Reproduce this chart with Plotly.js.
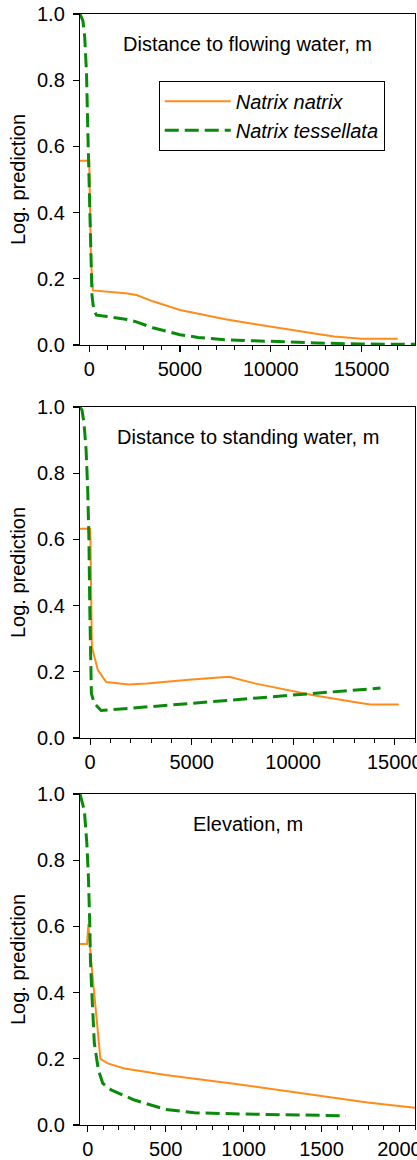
<!DOCTYPE html>
<html>
<head>
<meta charset="utf-8">
<script src="https://cdn.plot.ly/plotly-3.0.1.min.js"></script>
<style>
  html, body { margin: 0; padding: 0; background: #fff; }
  #chart { width: 417px; height: 1160px; }
</style>
</head>
<body>
<div id="chart"></div>
<script>
// ---------- Data ----------
const seriesNames = ["Natrix natrix", "Natrix tessellata"];
const panelTitles = ["Distance to flowing water, m", "Distance to standing water, m", "Elevation, m"];
const yTitle = "Log. prediction";
const yTickVals = [0, 0.2, 0.4, 0.6, 0.8, 1.0];

// Panel 1: distance to flowing water
const flowNatrixX = [-510, 0, 30, 100, 200, 1000, 2000, 2600, 3500, 5000, 6500, 7500, 9000, 10000, 11500, 12500, 13500, 14500, 15000, 17000];
const flowNatrixY = [0.557, 0.557, 0.45, 0.25, 0.165, 0.162, 0.156, 0.151, 0.132, 0.106, 0.088, 0.078, 0.064, 0.055, 0.042, 0.034, 0.026, 0.021, 0.019, 0.019];
const flowTessX = [-510, -350, -250, -150, -80, -30, 20, 80, 150, 250, 400, 1000, 2000, 2600, 3500, 5000, 6000, 7500, 10000, 12500, 15000, 18000];
const flowTessY = [1.0, 0.98, 0.93, 0.82, 0.65, 0.52, 0.40, 0.25, 0.15, 0.105, 0.09, 0.086, 0.078, 0.070, 0.052, 0.031, 0.023, 0.016, 0.010, 0.006, 0.003, 0.002];

// Panel 2: distance to standing water
const standNatrixX = [-500, 0, 15, 85, 380, 790, 1900, 2800, 5000, 6850, 8100, 10000, 11000, 13000, 13800, 15200];
const standNatrixY = [0.632, 0.632, 0.60, 0.275, 0.205, 0.169, 0.162, 0.165, 0.177, 0.185, 0.165, 0.142, 0.129, 0.109, 0.101, 0.101];
const standTessX = [-500, -400, -300, -200, -120, -60, -20, 20, 60, 200, 540, 2000, 5000, 7500, 10000, 12000, 14300];
const standTessY = [1.0, 0.99, 0.95, 0.87, 0.75, 0.60, 0.40, 0.20, 0.135, 0.105, 0.083, 0.090, 0.105, 0.116, 0.129, 0.140, 0.151];

// Panel 3: elevation
const elevNatrixX = [-50, -5, 4, 21, 81, 128, 235, 500, 1000, 1260, 1500, 1795, 2105];
const elevNatrixY = [0.547, 0.547, 0.607, 0.498, 0.200, 0.186, 0.171, 0.151, 0.121, 0.104, 0.088, 0.068, 0.052];
const elevTessX = [-50, -22, -6, 4, 13, 17, 26, 42, 68, 96, 150, 299, 500, 683, 1000, 1656];
const elevTessY = [1.0, 0.95, 0.85, 0.75, 0.60, 0.50, 0.40, 0.247, 0.166, 0.126, 0.106, 0.0755, 0.047, 0.037, 0.033, 0.028];

// ---------- Styling ----------
const FONT = "Liberation Sans, Arial, Helvetica, sans-serif";
const FS = 20;
const ORANGE = "#FF8C1A";
const GREEN = "#0A8A0A";

function natrixTrace(x, y, xa, ya, show) {
  return { x: x, y: y, xaxis: xa, yaxis: ya, type: "scatter", mode: "lines",
    name: "<i>" + seriesNames[0] + "</i>", legendgroup: "n", showlegend: show,
    line: { color: ORANGE, width: 2 } };
}
function tessTrace(x, y, xa, ya, show) {
  return { x: x, y: y, xaxis: xa, yaxis: ya, type: "scatter", mode: "lines",
    name: "<i>" + seriesNames[1] + "</i>", legendgroup: "t", showlegend: show,
    line: { color: GREEN, width: 3, dash: "14px,6px" } };
}

const data = [
  natrixTrace(flowNatrixX, flowNatrixY, "x", "y", true),
  tessTrace(flowTessX, flowTessY, "x", "y", true),
  natrixTrace(standNatrixX, standNatrixY, "x2", "y2", false),
  tessTrace(standTessX, standTessY, "x2", "y2", false),
  natrixTrace(elevNatrixX, elevNatrixY, "x3", "y3", false),
  tessTrace(elevTessX, elevTessY, "x3", "y3", false)
];

function xAxis(range, dtick, minorDtick, anchor) {
  return {
    range: range, dtick: dtick, tick0: 0, tickformat: "d",
    showgrid: false, zeroline: false,
    showline: true, linecolor: "#000", linewidth: 1.2, mirror: true,
    ticks: "outside", ticklen: 6, tickwidth: 1.2, tickcolor: "#000",
    minor: { dtick: minorDtick, tick0: 0, ticks: "outside", ticklen: 4, tickwidth: 1, tickcolor: "#000", showgrid: false },
    tickfont: { family: FONT, size: FS, color: "#000" },
    ticklabelstandoff: 0,
    ticklabeloverflow: "allow",
    anchor: anchor, fixedrange: true
  };
}
function yAxis(domain, anchor) {
  return {
    domain: domain, range: [0, 1], tickvals: yTickVals, tickformat: ".1f",
    showgrid: false, zeroline: false,
    showline: true, linecolor: "#000", linewidth: 1.2, mirror: true,
    ticks: "outside", ticklen: 6, tickwidth: 1.2, tickcolor: "#000",
    tickfont: { family: FONT, size: FS, color: "#000" },
    ticklabelstandoff: 4,
    ticklabeloverflow: "allow",
    title: { text: yTitle, font: { family: FONT, size: FS, color: "#000" }, standoff: 6 },
    anchor: anchor, fixedrange: true
  };
}

const layout = {
  width: 417, height: 1160,
  margin: { l: 80, r: 2, t: 14, b: 35 },
  paper_bgcolor: "#fff", plot_bgcolor: "#fff",
  font: { family: FONT, size: FS, color: "#000" },
  xaxis: xAxis([-510, 17950], 5000, 1000, "y"),
  yaxis: yAxis([0.70207, 1.0], "x"),
  xaxis2: xAxis([-500, 16000], 5000, 1000, "y2"),
  yaxis2: yAxis([0.34833, 0.64626], "x2"),
  xaxis3: xAxis([-50, 2100], 500, 100, "y3"),
  yaxis3: yAxis([0, 0.29793], "x3"),
  showlegend: true,
  legend: {
    x: 0.235, y: 0.94, xanchor: "left", yanchor: "top",
    bordercolor: "#000", borderwidth: 1, bgcolor: "#fff",
    font: { family: FONT, size: FS, color: "#000" },
    tracegroupgap: 0, itemwidth: 66
  },
  annotations: panelTitles.map((t, i) => ({
    text: t, showarrow: false,
    xref: (i === 0 ? "x" : "x" + (i + 1)) + " domain",
    yref: (i === 0 ? "y" : "y" + (i + 1)) + " domain",
    x: 0.5, y: 0.909, xanchor: "center", yanchor: "middle",
    font: { family: FONT, size: FS, color: "#000" }
  }))
};

Plotly.newPlot("chart", data, layout, { displayModeBar: false, staticPlot: true });
</script>
</body>
</html>
